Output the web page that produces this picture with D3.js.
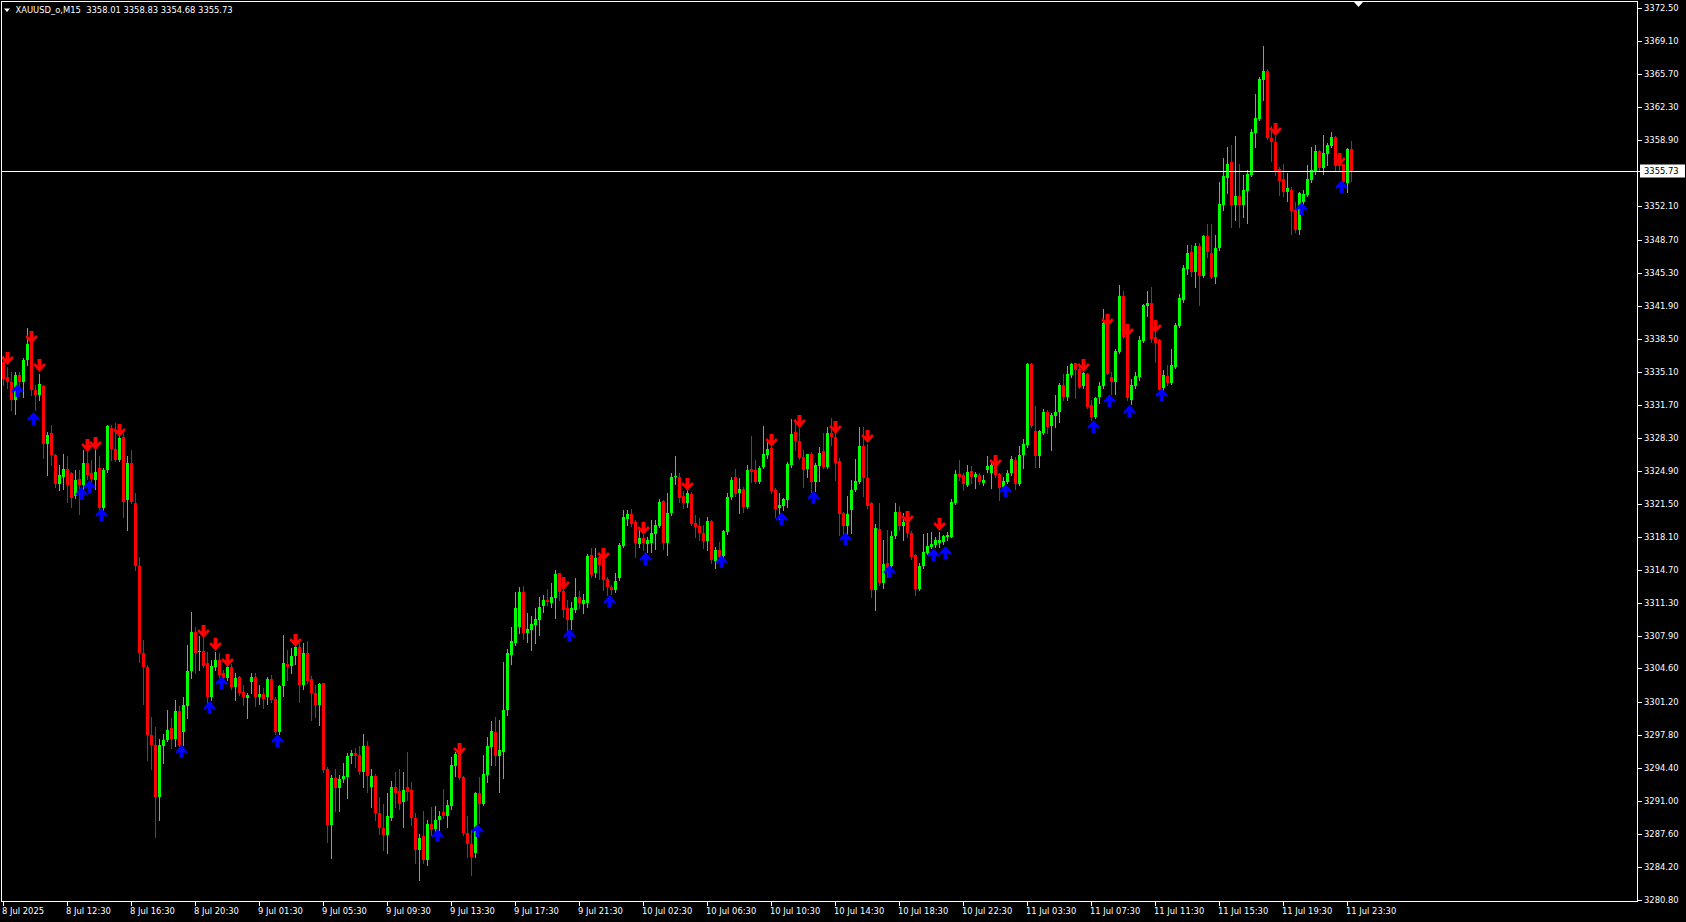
<!DOCTYPE html>
<html><head><meta charset="utf-8">
<script src="https://cdn.jsdelivr.net/npm/d3@7"></script>
<style>html,body{margin:0;padding:0;background:#000;overflow:hidden}</style>
</head><body>
<svg id="c" width="1686" height="922"></svg>
<script>
const symbol = "XAUUSD_o", timeframe = "M15";

const open = [
3336.1,3334.6,3334.1,3332.2,3334.8,3334.1,3336.3,3338.2,3333.2,3332.7,
3333.6,3327.7,3328.8,3326.5,3323.6,3324.3,3325.1,3324.7,3322.3,3324.1,
3323.5,3325.7,3324.7,3324.0,3325.2,3321.1,3325.0,3329.3,3327.2,3326.0,
3328.4,3321.9,3325.7,3321.6,3315.1,3306.2,3304.8,3297.8,3296.7,3291.4,
3296.6,3297.25,3298.45,3297.4,3300.2,3298.1,3300.7,3304.3,3308.4,3306.3,
3306.4,3305.2,3301.7,3304.8,3305.5,3304.1,3303.6,3304.8,3302.7,3303.7,
3302.2,3301.6,3303.2,3303.7,3301.7,3301.98,3301.7,3303.5,3301.5,3298.1,
3302.8,3305.1,3304.85,3305.9,3306.8,3302.9,3306.2,3303.5,3302.1,3300.85,
3303.07,3294.3,3288.5,3293.3,3292.3,3293.2,3293.4,3295.6,3295.9,3295.7,
3294.0,3296.6,3292.45,3293.5,3289.7,3288.2,3287.5,3289.2,3292.4,3292.0,
3290.9,3292.4,3292.1,3289.2,3285.9,3287.4,3284.9,3288.6,3288.1,3289.0,
3289.8,3289.4,3290.5,3294.6,3295.9,3293.4,3287.65,3286.6,3285.6,3291.8,
3290.7,3293.65,3296.5,3298.1,3295.6,3296.05,3300.3,3306.0,3307.2,3308.9,
3312.5,3308.2,3308.6,3309.07,3309.6,3311.0,3311.6,3311.3,3311.8,3314.4,
3312.6,3310.8,3309.6,3310.6,3311.9,3311.2,3311.3,3316.3,3314.45,3316.1,
3315.75,3313.8,3313.0,3312.7,3313.9,3317.2,3320.0,3320.5,3319.7,3317.4,
3318.0,3317.4,3317.5,3318.4,3319.25,3321.85,3317.5,3320.55,3324.25,3324.3,
3322.3,3321.6,3322.5,3319.6,3319.2,3318.55,3317.7,3319.8,3315.7,3316.8,
3316.2,3318.6,3322.2,3324.25,3322.6,3323.1,3321.2,3325.1,3325.0,3323.8,
3325.3,3326.55,3327.3,3322.9,3321.1,3321.3,3321.9,3325.5,3328.95,3328.0,
3326.3,3325.1,3326.65,3323.8,3325.4,3327.0,3325.35,3328.8,3328.4,3325.9,
3320.55,3319.2,3320.9,3322.9,3323.8,3327.5,3324.15,3321.6,3312.7,3318.9,
3313.35,3315.4,3315.1,3318.2,3320.7,3319.2,3319.8,3318.5,3316.25,3312.8,
3315.1,3316.5,3317.1,3317.3,3317.5,3317.6,3318.1,3318.15,3321.6,3324.6,
3324.5,3323.5,3324.9,3324.25,3324.5,3323.7,3325.0,3324.7,3325.5,3324.6,
3323.3,3323.8,3324.65,3326.0,3323.6,3326.5,3327.6,3335.9,3329.0,3326.45,
3328.8,3331.0,3329.5,3330.55,3331.0,3333.7,3332.5,3334.8,3335.96,3335.35,
3333.6,3334.9,3331.7,3330.5,3332.5,3333.6,3340.1,3334.6,3334.1,3337.1,
3342.9,3338.9,3332.2,3333.6,3334.6,3338.3,3341.86,3342.2,3338.7,3338.4,
3333.4,3334.7,3333.9,3335.6,3339.8,3342.5,3345.7,3347.4,3345.4,3348.0,
3344.9,3349.1,3347.35,3344.8,3347.8,3352.25,3355.0,3356.7,3352.25,3353.2,
3352.25,3353.7,3355.3,3359.7,3361.1,3365.1,3366.05,3359.1,3358.75,3355.9,
3354.9,3353.6,3353.8,3351.7,3349.7,3352.6,3353.3,3354.8,3355.7,3357.8,
3356.1,3357.5,3358.3,3359.2,3356.8,3356.5,3354.5,3358.01];

const high = [
3336.7,3335.6,3335.1,3335.1,3335.1,3336.5,3339.6,3338.4,3333.7,3334.9,
3333.7,3328.9,3329.6,3326.7,3325.5,3326.7,3326.4,3324.8,3325.0,3325.0,
3327.1,3327.1,3326.0,3327.1,3326.4,3325.2,3329.6,3329.6,3329.8,3328.6,
3328.8,3326.4,3327.1,3322.6,3316.1,3307.5,3305.0,3299.65,3298.6,3297.4,
3297.9,3300.3,3299.5,3301.4,3300.7,3301.7,3307.0,3310.4,3308.9,3307.9,
3307.7,3306.3,3305.5,3306.3,3306.2,3304.4,3305.1,3305.1,3304.1,3303.8,
3302.9,3302.05,3304.1,3304.1,3302.9,3302.6,3303.7,3303.9,3301.7,3302.9,
3308.0,3306.5,3306.7,3307.5,3307.2,3307.2,3307.4,3303.8,3302.9,3303.07,
3303.1,3294.5,3293.65,3294.3,3293.65,3294.85,3295.9,3296.2,3296.4,3296.6,
3297.85,3297.1,3294.3,3293.8,3291.4,3290.7,3291.8,3293.0,3294.0,3294.3,
3294.0,3296.05,3292.96,3289.7,3287.6,3289.9,3289.0,3290.4,3290.5,3289.9,
3292.2,3291.1,3295.5,3296.05,3296.05,3293.5,3289.4,3288.0,3291.9,3293.4,
3295.7,3297.6,3299.2,3299.65,3299.3,3305.3,3306.6,3308.9,3312.5,3313.0,
3313.1,3310.3,3310.0,3310.8,3311.9,3312.2,3312.8,3313.35,3314.7,3314.45,
3312.7,3311.6,3311.4,3313.9,3312.6,3312.3,3316.4,3316.95,3316.95,3316.2,
3315.9,3314.0,3313.2,3314.4,3317.5,3320.9,3320.9,3320.95,3319.9,3319.0,
3318.3,3318.15,3319.9,3319.9,3322.0,3321.9,3322.6,3324.7,3326.45,3324.7,
3322.8,3322.95,3322.7,3320.4,3320.1,3319.35,3320.2,3319.9,3317.1,3317.6,
3318.8,3322.6,3324.3,3325.1,3324.15,3323.3,3325.5,3328.5,3326.0,3325.4,
3329.5,3328.1,3327.4,3323.2,3322.6,3322.1,3325.8,3330.2,3330.2,3329.3,
3327.1,3326.7,3326.9,3325.7,3327.4,3328.8,3329.4,3330.3,3329.4,3326.2,
3320.7,3322.3,3324.0,3326.1,3329.4,3329.4,3327.7,3321.75,3319.5,3321.6,
3317.8,3318.8,3318.7,3321.6,3321.3,3320.55,3320.0,3318.7,3316.4,3315.4,
3318.4,3318.55,3318.65,3318.1,3318.65,3318.3,3318.65,3322.0,3325.0,3326.0,
3324.65,3325.5,3325.4,3324.8,3324.65,3324.5,3326.45,3326.0,3325.7,3324.7,
3324.25,3325.0,3326.4,3326.3,3327.5,3328.2,3335.96,3336.0,3331.6,3329.1,
3331.3,3331.2,3330.9,3332.7,3333.9,3334.9,3335.7,3335.96,3336.0,3335.8,
3335.1,3335.0,3332.2,3332.5,3334.1,3341.6,3340.2,3335.1,3337.4,3344.0,
3343.4,3339.05,3334.4,3335.1,3338.8,3342.1,3343.4,3343.8,3339.7,3338.5,
3335.3,3335.8,3337.4,3340.1,3343.1,3346.1,3348.1,3348.1,3348.3,3348.3,
3349.2,3350.3,3350.3,3349.2,3354.65,3357.05,3358.2,3358.4,3359.3,3356.5,
3355.3,3355.85,3360.1,3363.7,3365.4,3368.6,3366.2,3360.4,3359.3,3356.2,
3356.5,3355.5,3354.1,3352.6,3353.6,3353.8,3356.4,3358.2,3358.4,3357.9,
3359.45,3358.6,3359.8,3359.3,3357.2,3356.5,3358.07,3358.83];

const low = [
3333.7,3333.4,3331.2,3330.8,3333.05,3332.5,3335.8,3332.7,3331.2,3332.2,
3326.2,3324.5,3325.5,3323.3,3322.9,3323.1,3321.7,3321.2,3322.1,3320.5,
3322.9,3324.1,3323.6,3323.1,3320.9,3320.9,3324.8,3326.0,3325.9,3325.9,
3320.2,3318.8,3321.6,3314.7,3305.3,3301.0,3295.2,3294.3,3287.3,3289.0,
3294.85,3297.1,3296.4,3296.6,3296.6,3296.7,3299.5,3303.6,3304.1,3304.4,
3304.8,3301.0,3301.4,3304.4,3303.6,3303.4,3303.4,3302.5,3301.4,3301.9,
3300.85,3299.5,3302.05,3300.7,3301.0,3300.5,3301.0,3301.2,3297.9,3297.9,
3301.8,3303.4,3304.1,3305.1,3301.2,3302.5,3303.07,3299.3,3299.6,3298.8,
3294.0,3286.8,3285.1,3289.9,3289.9,3292.96,3291.25,3294.85,3294.5,3293.8,
3292.45,3291.9,3290.4,3289.0,3287.6,3285.9,3285.6,3289.0,3290.4,3290.2,
3288.3,3291.1,3288.5,3284.6,3282.9,3284.6,3284.4,3287.5,3287.65,3288.0,
3289.2,3288.3,3290.2,3293.5,3293.2,3287.5,3285.2,3283.4,3285.2,3288.7,
3290.6,3292.96,3294.7,3294.7,3291.9,3293.3,3299.8,3305.1,3307.0,3308.2,
3307.6,3307.35,3306.5,3307.2,3308.04,3310.4,3311.1,3310.96,3309.75,3311.65,
3309.9,3308.6,3308.7,3310.4,3310.8,3310.3,3310.96,3314.0,3314.0,3313.75,
3312.7,3312.15,3312.3,3312.5,3313.7,3317.05,3319.35,3319.2,3316.05,3317.05,
3316.8,3316.6,3316.6,3316.85,3319.1,3316.85,3316.3,3320.4,3323.6,3321.75,
3321.1,3321.2,3319.35,3318.15,3317.8,3316.95,3316.8,3315.4,3314.9,3315.75,
3316.1,3318.4,3322.0,3322.3,3320.55,3320.7,3321.05,3323.8,3323.7,3323.7,
3325.2,3326.2,3322.6,3320.2,3320.0,3320.9,3321.2,3325.35,3327.05,3326.1,
3323.3,3324.3,3322.7,3322.8,3323.9,3325.2,3325.2,3327.6,3324.0,3318.3,
3318.3,3318.3,3318.5,3322.8,3323.7,3322.3,3321.1,3312.0,3310.6,3313.2,
3312.9,3314.0,3314.7,3318.0,3318.85,3317.8,3318.15,3315.9,3312.15,3312.7,
3314.9,3316.4,3316.95,3317.1,3317.1,3317.4,3317.8,3318.1,3321.5,3324.0,
3322.95,3323.4,3323.7,3323.2,3323.6,3323.5,3324.8,3323.2,3324.3,3321.9,
3323.2,3323.7,3324.5,3323.1,3323.5,3325.2,3327.4,3329.45,3325.3,3325.3,
3328.7,3328.8,3327.05,3329.45,3329.97,3332.2,3332.2,3334.6,3332.4,3333.4,
3333.4,3331.4,3330.1,3330.3,3331.9,3333.4,3334.87,3332.8,3332.8,3337.0,
3338.6,3332.2,3331.8,3333.4,3334.25,3338.2,3340.8,3338.2,3336.1,3333.05,
3333.2,3333.7,3333.8,3335.45,3339.7,3342.3,3345.2,3344.9,3343.85,3341.97,
3344.8,3346.9,3344.7,3344.2,3347.6,3351.7,3353.45,3350.0,3350.7,3350.0,
3351.05,3350.4,3355.2,3358.25,3360.99,3363.0,3359.0,3356.8,3355.3,3353.3,
3353.2,3352.7,3349.3,3349.5,3349.3,3352.25,3353.2,3354.65,3355.4,3355.85,
3355.4,3356.35,3358.2,3355.85,3355.85,3354.5,3353.6,3354.68];

const close = [
3334.4,3334.1,3332.2,3334.8,3334.1,3336.3,3338.0,3333.2,3332.7,3333.8,
3327.7,3328.6,3326.5,3323.6,3324.5,3325.1,3323.5,3322.1,3324.0,3323.5,
3325.7,3324.5,3324.1,3324.8,3321.1,3325.0,3329.5,3327.2,3326.0,3328.3,
3321.7,3325.7,3321.75,3315.1,3306.2,3304.8,3297.8,3296.7,3291.4,3296.7,
3297.25,3298.3,3297.4,3300.2,3296.7,3300.85,3304.3,3308.4,3306.2,3306.4,
3304.9,3301.7,3304.85,3305.5,3303.9,3303.6,3304.8,3302.7,3303.6,3302.05,
3301.7,3301.9,3303.7,3301.7,3301.98,3301.5,3303.5,3301.4,3298.1,3302.8,
3305.2,3304.8,3305.9,3306.8,3302.9,3306.2,3303.3,3302.05,3300.85,3303.0,
3294.16,3288.5,3293.3,3292.3,3293.2,3293.5,3295.6,3295.9,3295.6,3294.0,
3296.6,3293.5,3293.5,3289.7,3288.2,3287.5,3289.4,3292.4,3291.8,3290.7,
3292.1,3291.9,3289.2,3285.9,3287.2,3284.9,3288.6,3288.0,3289.0,3289.4,
3289.4,3290.6,3294.7,3295.8,3293.3,3287.65,3286.6,3285.2,3291.8,3290.7,
3293.8,3296.6,3298.2,3295.6,3296.2,3300.3,3306.2,3307.4,3310.8,3312.5,
3308.2,3308.7,3309.2,3309.65,3310.96,3311.6,3311.4,3312.0,3314.3,3312.5,
3310.6,3309.6,3310.8,3311.9,3311.3,3311.6,3316.2,3314.2,3316.0,3315.2,
3313.7,3313.0,3312.7,3313.6,3317.3,3320.2,3320.5,3319.5,3317.5,3318.0,
3317.5,3317.8,3318.5,3319.35,3321.75,3317.5,3320.55,3324.3,3324.4,3322.1,
3321.65,3322.6,3319.45,3319.1,3318.5,3317.7,3319.8,3315.75,3316.8,3316.1,
3318.7,3322.2,3324.0,3322.5,3323.1,3321.2,3325.0,3324.8,3323.8,3325.2,
3326.65,3327.2,3322.8,3321.0,3321.4,3322.0,3325.6,3328.7,3328.0,3326.2,
3325.0,3326.65,3323.8,3325.5,3326.8,3325.3,3328.8,3328.4,3325.7,3320.5,
3319.2,3320.5,3323.0,3323.9,3327.5,3324.15,3321.3,3312.7,3319.0,3313.35,
3315.3,3314.9,3318.2,3320.7,3319.2,3319.7,3318.5,3316.1,3312.8,3315.1,
3316.6,3317.2,3317.4,3317.8,3317.8,3318.2,3318.3,3321.75,3324.6,3324.25,
3323.6,3324.8,3324.25,3324.6,3323.8,3324.0,3325.4,3325.5,3324.5,3323.2,
3323.9,3324.65,3326.1,3323.6,3326.5,3327.7,3335.9,3329.5,3326.4,3329.0,
3331.0,3329.4,3330.65,3331.0,3333.7,3332.5,3334.9,3335.9,3335.3,3333.5,
3335.0,3331.5,3330.5,3332.4,3333.6,3340.1,3334.9,3334.1,3337.2,3342.9,
3338.7,3332.4,3333.7,3334.7,3338.4,3341.96,3342.2,3338.5,3338.1,3333.2,
3334.8,3334.0,3335.8,3339.9,3342.65,3345.8,3347.3,3345.4,3348.0,3344.9,
3349.1,3347.45,3344.8,3347.8,3352.35,3355.2,3356.5,3352.25,3353.2,3352.25,
3353.8,3355.4,3359.8,3361.2,3365.2,3366.05,3359.1,3358.7,3355.7,3354.75,
3353.6,3353.96,3351.6,3349.7,3353.45,3353.4,3354.9,3355.8,3357.8,3356.1,
3357.6,3358.4,3359.2,3356.3,3356.3,3354.65,3357.97,3355.73];

const timeLabels = ["8 Jul 2025","8 Jul 12:30","8 Jul 16:30","8 Jul 20:30","9 Jul 01:30","9 Jul 05:30",
"9 Jul 09:30","9 Jul 13:30","9 Jul 17:30","9 Jul 21:30","10 Jul 02:30","10 Jul 06:30","10 Jul 10:30",
"10 Jul 14:30","10 Jul 18:30","10 Jul 22:30","11 Jul 03:30","11 Jul 07:30","11 Jul 11:30","11 Jul 15:30",
"11 Jul 19:30","11 Jul 23:30"];
const timeLabelIdx = [0,16,32,48,64,80,96,112,128,144,160,176,192,208,224,240,256,272,288,304,320,336];

const priceTicks = [3372.50,3369.10,3365.70,3362.30,3358.90,3352.10,3348.70,3345.30,3341.90,3338.50,
3335.10,3331.70,3328.30,3324.90,3321.50,3318.10,3314.70,3311.30,3307.90,3304.60,3301.20,3297.80,
3294.40,3291.00,3287.60,3284.20,3280.80];

const downArrowIdx = [1,7,9,21,23,29,50,53,56,73,114,140,150,160,171,192,199,208,216,226,234,248,270,276,281,288,318,334];
const downArrowPrice = [3335.8,3338.0,3335.1,3326.9,3327.05,3328.4,3307.7,3306.4,3304.8,3306.8,3295.6,3312.7,3315.6,3318.3,3322.8,3327.4,3329.3,3328.7,3327.8,3319.5,3318.7,3325.2,3335.1,3339.7,3338.7,3339.05,3359.3,3356.3];
const upArrowIdx = [3,7,19,21,24,44,51,54,68,108,118,141,151,160,179,194,202,210,221,232,235,250,272,276,281,289,324,334];
const upArrowPrice = [3333.8,3331.0,3323.3,3324.0,3321.1,3296.7,3301.3,3303.8,3297.9,3288.1,3288.6,3308.7,3312.2,3316.6,3316.3,3320.7,3322.8,3318.6,3315.2,3316.95,3317.2,3323.6,3330.1,3332.8,3331.7,3333.4,3352.6,3354.8];

// ---------- drawing ----------
const W = 1686, H = 922;
const plotL = 1.5, plotT = 1.5, plotR = 1637.5, plotB = 901.5;
const FONT = "DejaVu Sans, Verdana, sans-serif", FS = 8.4;
const BULL = "#00ff00", BEAR = "#ff0000";

const n = close.length;
const bars = d3.range(n).map(i => ({i, o: open[i], h: high[i], l: low[i], c: close[i]}));

const x = d3.scaleLinear().domain([0, n - 1]).range([3, 3 + 4 * (n - 1)]);
const y = d3.scaleLinear().domain([3280.8, 3372.5]).range([900, 8]);

const svg = d3.select("#c");
svg.append("rect").attr("width", W).attr("height", H).attr("fill", "#000");

// candles
const cg = svg.append("g").attr("shape-rendering", "crispEdges");
cg.selectAll("line.w").data(bars).join("line").attr("class", "w")
  .attr("x1", d => Math.round(x(d.i)) + 0.5).attr("x2", d => Math.round(x(d.i)) + 0.5)
  .attr("y1", d => Math.round(y(d.h))).attr("y2", d => Math.round(y(d.l)) + 1)
  .attr("stroke", d => d.c >= d.o ? BULL : BEAR).attr("stroke-width", 1);
cg.selectAll("rect.b").data(bars).join("rect").attr("class", "b")
  .attr("x", d => Math.round(x(d.i)) - 1).attr("width", 3)
  .attr("y", d => Math.round(y(Math.max(d.o, d.c))))
  .attr("height", d => Math.max(1, Math.round(y(Math.min(d.o, d.c))) - Math.round(y(Math.max(d.o, d.c)))))
  .attr("fill", d => d.c >= d.o ? BULL : BEAR);

// arrows (bolder, Wingdings-like)
const downPath = "M-2,-13 L2,-13 L2,-6.5 L4.5,-9 L6.2,-7 L0,0 L-6.2,-7 L-4.5,-9 L-2,-6.5 Z";
const upPath = "M-2,13 L2,13 L2,6.5 L4.5,9 L6.2,7 L0,0 L-6.2,7 L-4.5,9 L-2,6.5 Z";
const ag = svg.append("g");
ag.selectAll("path.dn").data(downArrowIdx.map((i, k) => ({i, p: downArrowPrice[k]}))).join("path")
  .attr("class", "dn").attr("d", downPath).attr("fill", "#ff0000")
  .attr("transform", d => `translate(${Math.round(x(d.i)) + 0.5},${Math.round(y(d.p))})`);
ag.selectAll("path.up").data(upArrowIdx.map((i, k) => ({i, p: upArrowPrice[k]}))).join("path")
  .attr("class", "up").attr("d", upPath).attr("fill", "#0000ff")
  .attr("transform", d => `translate(${Math.round(x(d.i)) + 2.5},${Math.round(y(d.p))})`);

// frame
svg.append("rect").attr("x", plotL).attr("y", plotT).attr("width", plotR - plotL).attr("height", plotB - plotT)
  .attr("fill", "none").attr("stroke", "#fff").attr("stroke-width", 1).attr("shape-rendering", "crispEdges");

// price axis
const yg = svg.append("g").attr("shape-rendering", "crispEdges");
priceTicks.forEach(p => {
  const yy = Math.round(y(p)) + 0.5;
  yg.append("line").attr("x1", plotR).attr("x2", plotR + 4).attr("y1", yy).attr("y2", yy).attr("stroke", "#fff");
});
svg.append("g").selectAll("text").data(priceTicks).join("text")
  .attr("x", 1644).attr("y", d => Math.round(y(d)) + 0.5).attr("dominant-baseline", "middle")
  .attr("font-family", FONT).attr("font-size", FS).attr("fill", "#fff").text(d => d.toFixed(2));

// time axis
const xg = svg.append("g").attr("shape-rendering", "crispEdges");
timeLabelIdx.forEach(i => {
  const xx = Math.round(x(i)) + 0.5;
  xg.append("line").attr("x1", xx).attr("x2", xx).attr("y1", plotB).attr("y2", plotB + 4).attr("stroke", "#fff");
});
svg.append("g").selectAll("text").data(timeLabelIdx).join("text")
  .attr("x", d => Math.round(x(d)) - 1).attr("y", 911.5).attr("dominant-baseline", "middle")
  .attr("font-family", FONT).attr("font-size", FS).attr("fill", "#fff").text((d, k) => timeLabels[k]);

// current price line + label
const lastPrice = close[n - 1];
const ly = Math.round(y(lastPrice)) + 0.5;
svg.append("line").attr("x1", 2).attr("x2", 1641).attr("y1", ly).attr("y2", ly)
  .attr("stroke", "#fff").attr("shape-rendering", "crispEdges");
svg.append("rect").attr("x", 1640).attr("y", ly - 7).attr("width", 45).attr("height", 13).attr("fill", "#fff");
svg.append("text").attr("x", 1644).attr("y", ly).attr("dominant-baseline", "middle")
  .attr("font-family", FONT).attr("font-size", FS).attr("fill", "#000").text(lastPrice.toFixed(2));

// chart shift marker
svg.append("path").attr("d", "M1354,2 L1363,2 L1358.5,7 Z").attr("fill", "#fff");

// header
svg.append("path").attr("d", "M4,8.5 L10,8.5 L7,12 Z").attr("fill", "#fff");
svg.append("text").attr("x", 15.5).attr("y", 10.8).attr("dominant-baseline", "middle")
  .attr("font-family", FONT).attr("font-size", FS).attr("fill", "#fff")
  .attr("xml:space", "preserve").style("white-space", "pre")
  .text(`${symbol},${timeframe}  ${open[n-1].toFixed(2)} ${high[n-1].toFixed(2)} ${low[n-1].toFixed(2)} ${close[n-1].toFixed(2)}`);
</script>
</body></html>
